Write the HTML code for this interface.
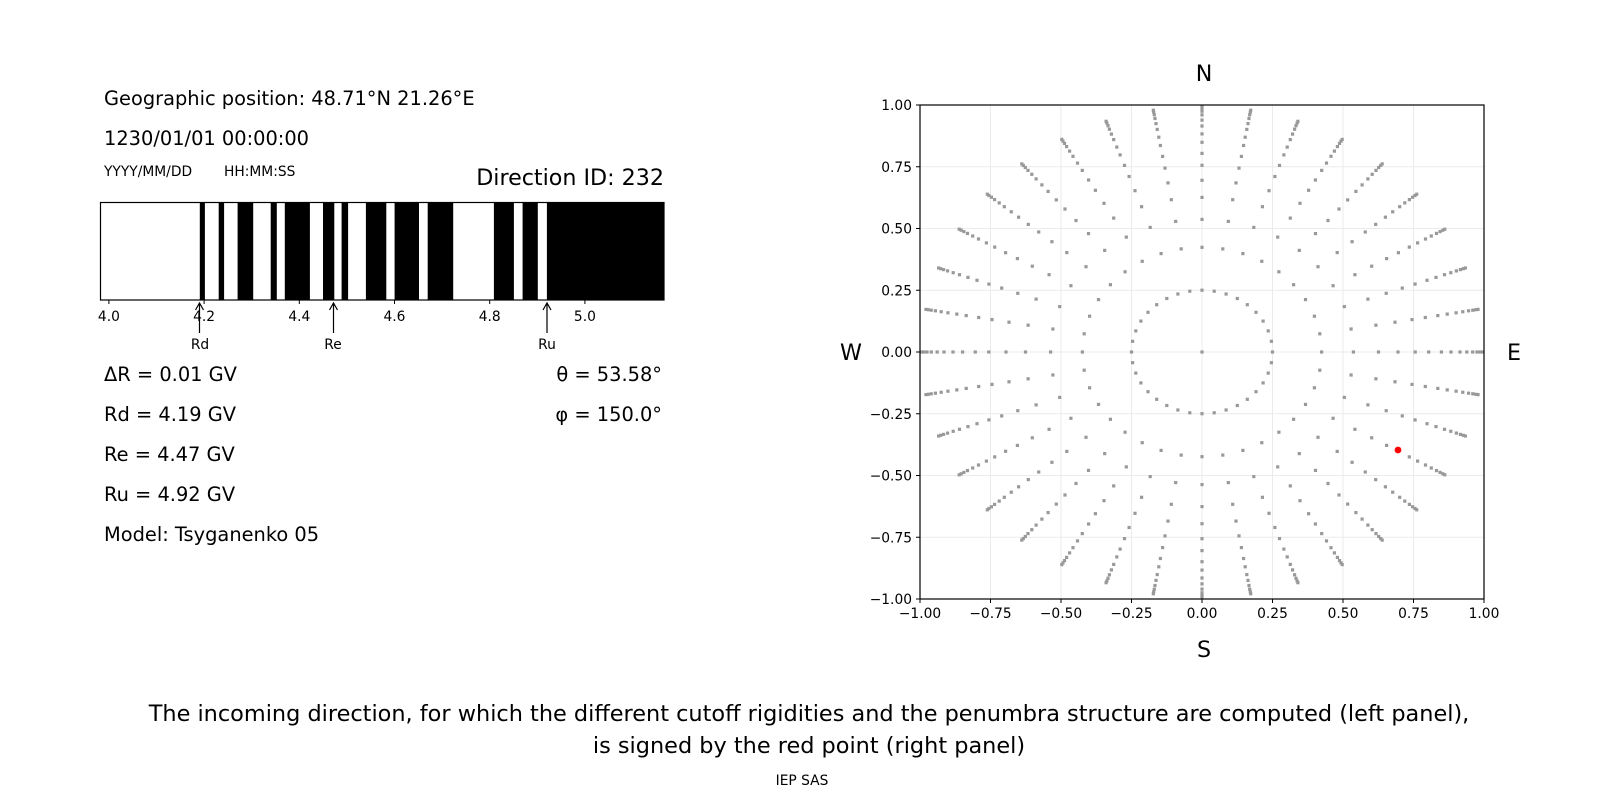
<!DOCTYPE html>
<html><head><meta charset="utf-8"><style>
html,body{margin:0;padding:0;background:#fff;width:1600px;height:800px;overflow:hidden}
svg{display:block;font-family:"DejaVu Sans","Liberation Sans",sans-serif}
</style></head><body>
<svg id="s" width="1600" height="800" viewBox="0 0 1600 800" xmlns="http://www.w3.org/2000/svg">
<g font-size="19.4" fill="#000">
<text x="104" y="105">Geographic position: 48.71°N 21.26°E</text>
<text x="104" y="145">1230/01/01 00:00:00</text>
<text x="104" y="176" font-size="13.8">YYYY/MM/DD</text>
<text x="224" y="176" font-size="13.8">HH:MM:SS</text>
<text x="664" y="185" font-size="22.2" text-anchor="end">Direction ID: 232</text>
<text x="104" y="381">ΔR = 0.01 GV</text>
<text x="104" y="421">Rd = 4.19 GV</text>
<text x="104" y="461">Re = 4.47 GV</text>
<text x="104" y="501">Ru = 4.92 GV</text>
<text x="104" y="541">Model: Tsyganenko 05</text>
<text x="662" y="381" text-anchor="end">θ = 53.58°</text>
<text x="662" y="421" text-anchor="end">φ = 150.0°</text>
</g>
<g fill="#000">
<rect x="199.8" y="202" width="5.1" height="98"/>
<rect x="218.7" y="202" width="5.4" height="98"/>
<rect x="237.6" y="202" width="15.6" height="98"/>
<rect x="270.7" y="202" width="6.1" height="98"/>
<rect x="284.8" y="202" width="25.1" height="98"/>
<rect x="323.0" y="202" width="11.3" height="98"/>
<rect x="341.6" y="202" width="6.5" height="98"/>
<rect x="365.9" y="202" width="20.4" height="98"/>
<rect x="394.6" y="202" width="24.4" height="98"/>
<rect x="427.7" y="202" width="25.5" height="98"/>
<rect x="493.9" y="202" width="20.0" height="98"/>
<rect x="522.6" y="202" width="15.2" height="98"/>
<rect x="546.9" y="202" width="117.1" height="98"/>
</g>
<rect x="100.5" y="202.5" width="563.5" height="97.5" fill="none" stroke="#000" stroke-width="1.2"/>
<g id="bt" stroke="#000" stroke-width="1"></g>
<g font-size="13.8" text-anchor="middle" id="btl"></g>
<g stroke="#000" stroke-width="1.2" fill="none">
<path d="M199.5 303 V333 M195.5 310 L199.5 303 L203.5 310"/>
<path d="M333.5 303 V333 M329.5 310 L333.5 303 L337.5 310"/>
<path d="M547 303 V333 M543 310 L547 303 L551 310"/>
</g>
<g font-size="13.8" text-anchor="middle">
<text x="200" y="349">Rd</text><text x="333" y="349">Re</text><text x="547" y="349">Ru</text>
</g>
<g id="grid" stroke="#ebebeb" stroke-width="1"></g>
<g id="pts" fill="#999"></g>
<circle cx="1398" cy="450" r="3.4" fill="#f00"/>
<rect x="920" y="105" width="564" height="494" fill="none" stroke="#000" stroke-width="1.2"/>
<g id="ax" stroke="#000" stroke-width="1"></g>
<g id="axl" font-size="13.8"></g>
<g font-size="22.2" text-anchor="middle">
<text x="1204" y="81">N</text>
<text x="1204" y="657">S</text>
<text x="851" y="360">W</text>
<text x="1514" y="360">E</text>
</g>
<g font-size="22.4" text-anchor="middle">
<text x="809" y="721">The incoming direction, for which the different cutoff rigidities and the penumbra structure are computed (left panel),</text>
<text x="809" y="753">is signed by the red point (right panel)</text>
<text x="802" y="785" font-size="13.8">IEP SAS</text>
</g>
</svg>
<script>
var NS="http://www.w3.org/2000/svg";
function el(p,t,a,txt){var e=document.createElementNS(NS,t);for(var k in a)e.setAttribute(k,a[k]);if(txt!=null)e.textContent=txt;document.getElementById(p).appendChild(e);}
for(var i=0;i<6;i++){var v=4+i*0.2;var x=108.9+(v-4)*476;
el("bt","line",{x1:x,x2:x,y1:300,y2:304});
el("btl","text",{x:x,y:321},v.toFixed(1));}
var cx=1202,cy=352,sx=282,sy=247;
var tv=[-1,-0.75,-0.5,-0.25,0,0.25,0.5,0.75,1];
tv.forEach(function(v){var x=cx+v*sx,y=cy-v*sy;
if(Math.abs(v)<1){el("grid","line",{x1:x,x2:x,y1:105,y2:599});el("grid","line",{x1:920,x2:1484,y1:y,y2:y});}
el("ax","line",{x1:x,x2:x,y1:599,y2:603});
el("ax","line",{x1:916,x2:920,y1:y,y2:y});
var s=(v<0?"\u2212":"")+Math.abs(v).toFixed(2);
el("axl","text",{x:x,y:618,"text-anchor":"middle"},s);
el("axl","text",{x:912,y:y+5,"text-anchor":"end"},s);});
function pt(r,a){var rad=a*Math.PI/180;el("pts","rect",{x:(cx+r*Math.sin(rad)*sx-1.6).toFixed(1),y:(cy-r*Math.cos(rad)*sy-1.6).toFixed(1),width:3.2,height:3.2});}
pt(0,0);
var R=[0.424,0.537,0.626,0.695,0.756,0.804,0.849,0.883,0.915,0.939,0.96,0.975,0.986,0.994];
for(var a=0;a<360;a+=10){pt(0.25,a);R.forEach(function(r){pt(r,a);});}
</script>
</body></html>
